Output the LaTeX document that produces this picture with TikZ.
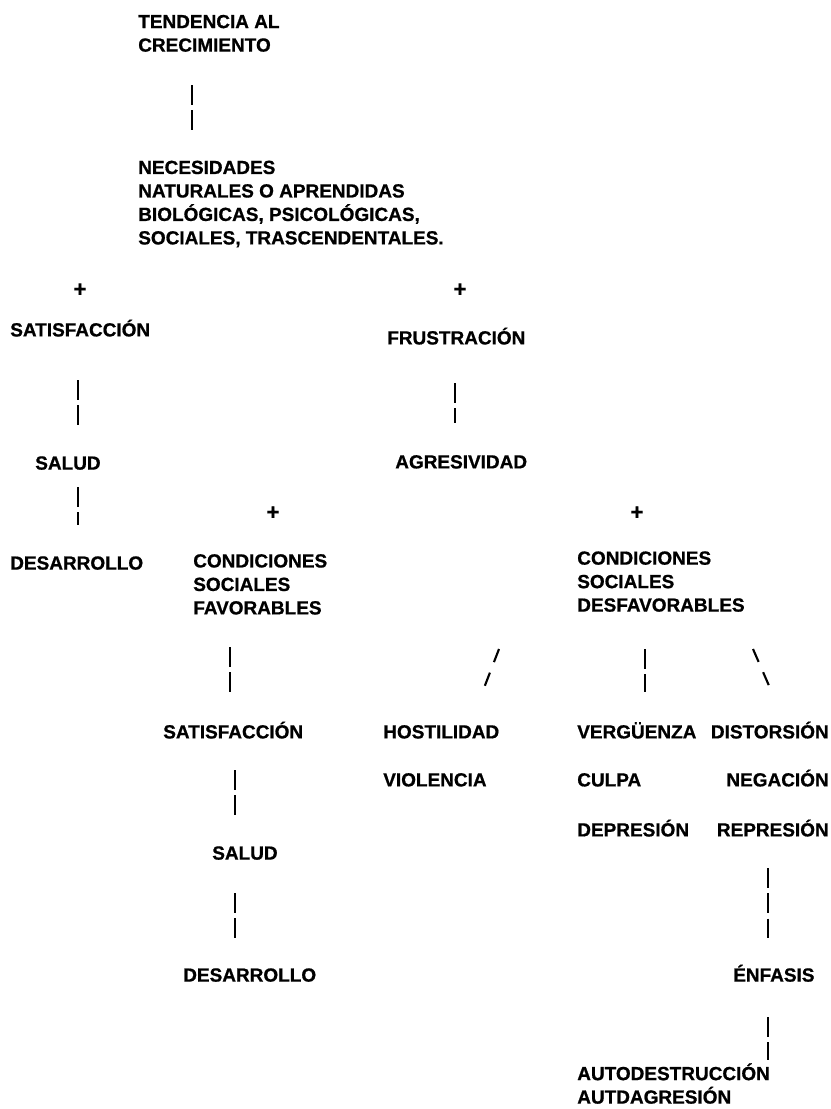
\documentclass[tikz,border=0pt]{standalone}
\usepackage{fontspec}
\setmainfont{Liberation Sans}[BoldFeatures={FakeBold=0.8}]
\begin{document}
\begin{tikzpicture}[
    lbl/.style={font=\bfseries\fontsize{13.5}{16.7}\selectfont, inner sep=0pt, anchor=base west, align=left},
    lblr/.style={lbl, anchor=base east, align=right},
    pls/.style={lbl, anchor=center, font=\bfseries\fontsize{16}{16}\selectfont},
    brk/.style={line width=1.5pt, dash pattern={on 14pt off 4pt}},
    brks/.style={line width=1.5pt, dash pattern={on 10pt off 8pt}}
  ]
    \useasboundingbox (0, 0) rectangle (20.775, -27.725);
    % top of the tree
    \node[lbl] (tend) at (3.45, -1.29) {TENDENCIA AL\\CRECIMIENTO};
    \node[lbl] (nec) at (3.45, -6.11) {NECESIDADES\\NATURALES O APRENDIDAS\\BIOL\'OGICAS, PSICOL\'OGICAS,\\SOCIALES, TRASCENDENTALES.};
    \node[pls] (plusA) at (2.0, -7.25) {+};
    \node[pls] (plusB) at (11.5, -7.25) {+};
    \node[lbl] (satA) at (0.25, -8.41) {SATISFACCI\'ON};
    \node[lbl] (fru) at (9.675, -8.61) {FRUSTRACI\'ON};
    \node[lbl] (salA) at (0.875, -11.74) {SALUD};
    \node[lbl] (agr) at (9.875, -11.71) {AGRESIVIDAD};
    \node[pls] (plusC) at (6.825, -12.825) {+};
    \node[pls] (plusD) at (15.925, -12.825) {+};
    \node[lbl] (desA) at (0.25, -14.24) {DESARROLLO};
    \node[lbl] (conF) at (4.825, -15.36) {CONDICIONES\\SOCIALES\\FAVORABLES};
    \node[lbl] (conD) at (14.425, -15.29) {CONDICIONES\\SOCIALES\\DESFAVORABLES};
    % lower rows
    \node[lbl] (satB) at (4.075, -18.46) {SATISFACCI\'ON};
    \node[lbl] (hos) at (9.575, -18.46) {HOSTILIDAD};
    \node[lbl] (ver) at (14.425, -18.46) {VERG\"UENZA};
    \node[lblr] (dis) at (20.725, -18.46) {DISTORSI\'ON};
    \node[lbl] (vio) at (9.575, -19.66) {VIOLENCIA};
    \node[lbl] (cul) at (14.425, -19.66) {CULPA};
    \node[lblr] (neg) at (20.725, -19.66) {NEGACI\'ON};
    \node[lbl] (dep) at (14.425, -20.91) {DEPRESI\'ON};
    \node[lblr] (rep) at (20.725, -20.91) {REPRESI\'ON};
    \node[lbl] (salB) at (5.3, -21.49) {SALUD};
    \node[lbl] (desB) at (4.575, -24.54) {DESARROLLO};
    \node[lbl] (enf) at (18.325, -24.54) {\'ENFASIS};
    \node[lbl] (auto) at (14.425, -27.59) {AUTODESTRUCCI\'ON\\AUTDAGRESI\'ON};
    % broken connectors
    \coordinate (tendS) at (4.8, -2.125);   \coordinate (necN) at (4.8, -3.325);
    \coordinate (satAS) at (1.95, -9.5);    \coordinate (salAN) at (1.95, -10.625);
    \coordinate (fruS) at (11.375, -9.575); \coordinate (agrN) at (11.375, -10.575);
    \coordinate (salAS) at (1.95, -12.175); \coordinate (desAN) at (1.95, -13.125);
    \coordinate (conFS) at (5.75, -16.175); \coordinate (satBN) at (5.75, -17.325);
    \coordinate (hosT) at (12.475, -16.225); \coordinate (hosN) at (12.1, -17.2);
    \coordinate (conDS) at (16.125, -16.225); \coordinate (verN) at (16.125, -17.3);
    \coordinate (disT) at (18.825, -16.225); \coordinate (disN) at (19.25, -17.2);
    \coordinate (satBS) at (5.875, -19.25); \coordinate (salBN) at (5.875, -20.425);
    \coordinate (salBS) at (5.875, -22.325); \coordinate (desBN) at (5.875, -23.45);
    \coordinate (repS) at (19.2, -21.7);    \coordinate (enfN) at (19.2, -23.45);
    \coordinate (enfS) at (19.2, -25.425);  \coordinate (autoN) at (19.2, -26.5);
    \draw[brk] (tendS) -- (necN);
    \draw[brk] (satAS) -- (salAN);
    \draw[brk] (fruS) -- (agrN);
    \draw[brk] (salAS) -- (desAN);
    \draw[brk] (conFS) -- (satBN);
    \draw[brks] (hosT) -- (hosN);
    \draw[brk] (conDS) -- (verN);
    \draw[brks] (disT) -- (disN);
    \draw[brk] (satBS) -- (salBN);
    \draw[brk] (salBS) -- (desBN);
    \draw[brk] (repS) -- (enfN);
    \draw[brk] (enfS) -- (autoN);
\end{tikzpicture}
\end{document}
